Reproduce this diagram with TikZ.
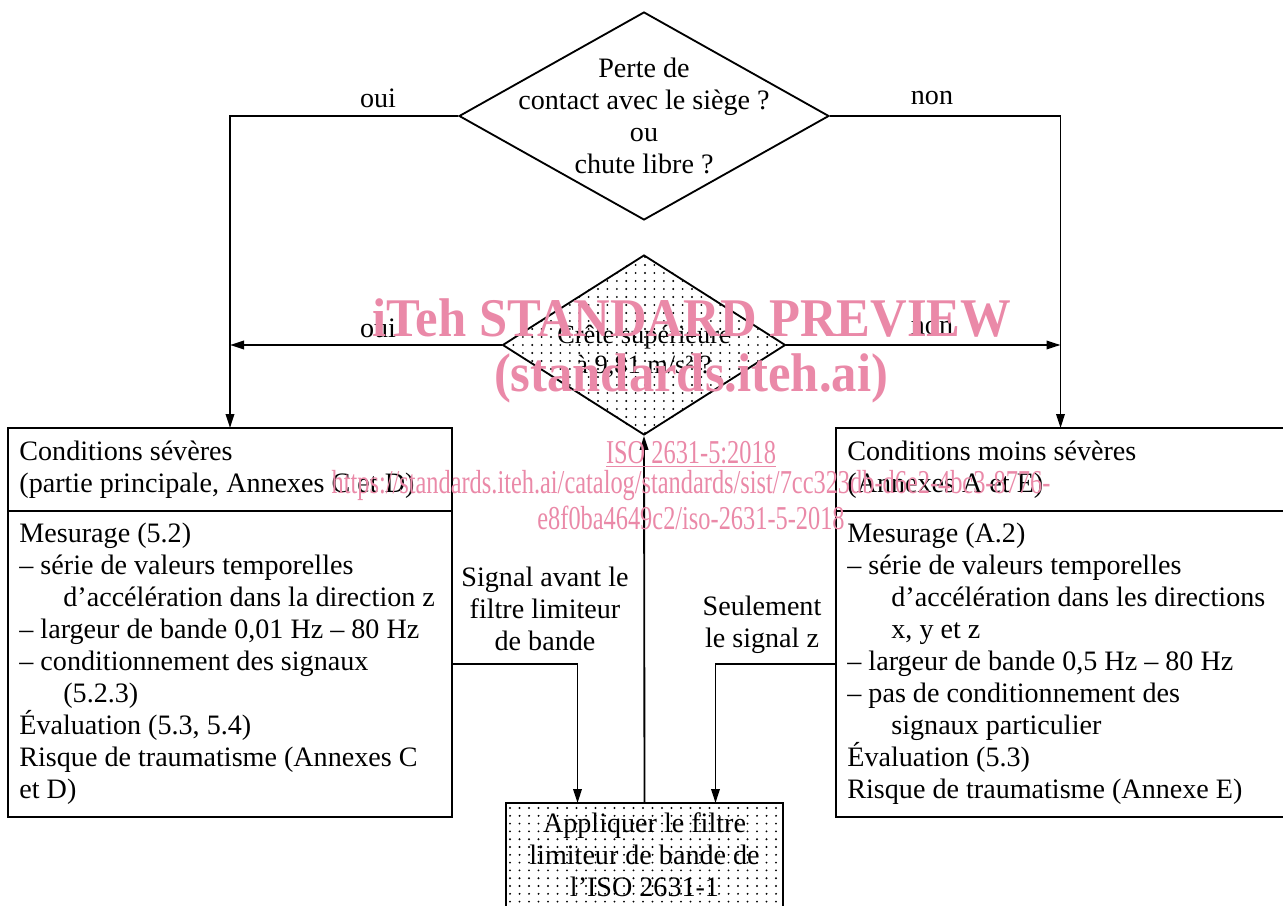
\documentclass[tikz,border=0pt]{standalone}
\usepackage{fontspec}
\setmainfont{Liberation Serif}
\usepackage{graphicx}
\usetikzlibrary{positioning,arrows.meta,shapes.geometric,calc}
\definecolor{wmpink}{RGB}{234,137,168}
\newcommand{\indline}{\hspace*{0.88cm}}
\tikzset{
decision/.style={
draw,
diamond,
inner sep=0pt,
line width=1.05pt
},
framebox/.style={
draw,
rectangle,
inner sep=0pt,
outer sep=0pt,
line width=1.05pt
},
boxtext/.style={
align=left,
inner sep=0pt
},
arrow/.style={
-{Triangle[length=2.8mm,width=1.7mm]},
line width=1.05pt
},
wmark/.style={
text=wmpink,
inner sep=0pt,
font=\fontsize{19pt}{22pt}\selectfont
},
wmarkbold/.style={
text=wmpink,
inner sep=0pt,
font=\fontsize{31pt}{36pt}\selectfont\bfseries
}
}

\begin{document}
\begin{tikzpicture}[x=0.02cm,y=-0.02cm,font=\fontsize{16pt}{18.2pt}\selectfont]
\useasboundingbox (0,0) rectangle (1283,905);
\clip (0,0) rectangle (1283,905);

\node[decision,minimum width=7.4cm,minimum height=4.16cm](contact) at (644,116){};
\node[decision,minimum width=5.66cm,minimum height=3.6cm](crest) at (644,345){};

\node[framebox,minimum width=8.88cm,minimum height=1.66cm](sevHead) at (230,469.5){};
\node[framebox,minimum width=8.88cm,minimum height=6.12cm,below=0pt of sevHead](sevBody){};
\node[framebox,minimum width=8.98cm,minimum height=1.66cm](mildHead) at (1060.5,469.5){};
\node[framebox,minimum width=8.98cm,minimum height=6.12cm,below=0pt of mildHead](mildBody){};
\node[framebox,minimum width=5.54cm,minimum height=2.4cm](filter) at (644.5,863){};

\begin{scope}
\clip (crest.north) -- (crest.east) -- (crest.south) -- (crest.west) -- cycle;
\foreach \i in {0,...,30}
\foreach \j in {0,...,22}
\fill (504+9.4*\i,257+8*\j) circle[radius=0.6pt];
\end{scope}
\begin{scope}
\clip (filter.south west) rectangle (filter.north east);
\foreach \i in {0,...,28}
\foreach \j in {0,...,13}
\fill (510+9.5*\i,808+7.8*\j) circle[radius=0.6pt];
\end{scope}

\node[align=center](contactTxt) at (contact.center){Perte de\\contact avec le siège ?\\ou\\chute libre ?};
\node[align=center,font=\fontsize{15pt}{17pt}\selectfont](crestTxt) at (644,351){Crête supérieure\\à 9,81 m/s² ?};
\node[align=center](filterTxt) at (644.5,854.5){Appliquer le filtre\\limiteur de bande de\\l’ISO 2631-1};

\node[boxtext,anchor=west](sevHeadTxt) at ([xshift=0.22cm]sevHead.west){Conditions sévères\\(partie principale, Annexes C et D)};
\node[boxtext,anchor=west](sevBodyTxt) at ([xshift=0.22cm]sevBody.west){Mesurage (5.2)\\
– série de valeurs temporelles\\
\indline d’accélération dans la direction z\\
– largeur de bande 0,01 Hz – 80 Hz\\
– conditionnement des signaux\\
\indline (5.2.3)\\
Évaluation (5.3, 5.4)\\
Risque de traumatisme (Annexes C\\
et D)};
\node[boxtext,anchor=west](mildHeadTxt) at ([xshift=0.22cm]mildHead.west){Conditions moins sévères\\(Annexes A et E)};
\node[boxtext,anchor=west](mildBodyTxt) at ([xshift=0.22cm]mildBody.west){Mesurage (A.2)\\
– série de valeurs temporelles\\
\indline d’accélération dans les directions\\
\indline x, y et z\\
– largeur de bande 0,5 Hz – 80 Hz\\
– pas de conditionnement des\\
\indline signaux particulier\\
Évaluation (5.3)\\
Risque de traumatisme (Annexe E)};

\node(ouiTop) at (378,98){oui};
\node(nonTop) at (932,98){non};
\node(ouiMid) at (378,328){oui};
\node(nonMid) at (932,328){non};
\node[align=center](beforeLbl) at (545,609){Signal avant le\\filtre limiteur\\de bande};
\node[align=center](onlyLbl) at (762,625){Seulement\\le signal z};

\foreach \a/\b in {contact.west/sevHead.north,contact.east/mildHead.north}
\draw[arrow](\a) -| (\b);
\draw[arrow](crest.west) -- (crest.west -| sevHead.north);
\draw[arrow](crest.east) -- (crest.east -| mildHead.north);
\draw[arrow](filter.north) -- (crest.south);
\draw[arrow](sevBody.east) -| ([xshift=-1.34cm]filter.north);
\draw[arrow](mildBody.west) -| ([xshift=1.42cm]filter.north);

\node[wmarkbold](wmTitle) at (692,318){\scalebox{0.93}[1]{iTeh STANDARD PREVIEW}};
\node[wmarkbold](wmSite) at (691,378){\scalebox{0.93}[1]{(standards.iteh.ai)}};
\node[wmark](wmIso) at (691,454){\scalebox{0.73}[1]{\underline{ISO 2631-5:2018}}};
\node[wmark](wmUrl) at (691,486){\scalebox{0.73}[1]{https://standards.iteh.ai/catalog/standards/sist/7cc323db-d6e2-4bc3-8776-}};
\node[wmark](wmUrlEnd) at (691,518){\scalebox{0.73}[1]{e8f0ba4649c2/iso-2631-5-2018}};
\end{tikzpicture}
\end{document}
